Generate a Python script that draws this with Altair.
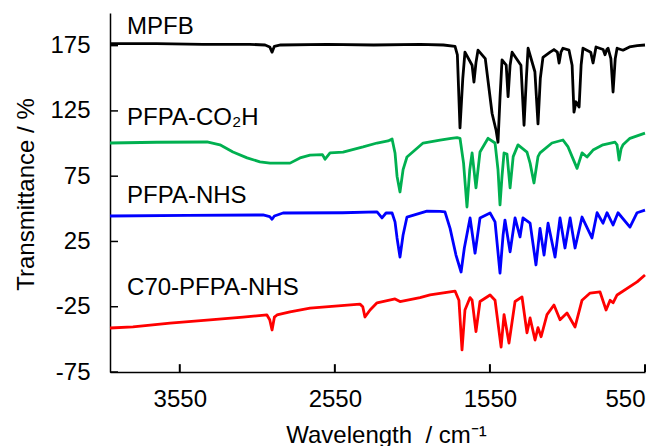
import altair as alt
import pandas as pd

# ---------------- data (wavenumber in cm-1, transmittance offset in %) ----------------
mpfb_wn = [4000, 3700, 3400, 3100, 3000, 2970, 2955, 2940, 2900, 2600, 2300, 2000, 1850,
           1775, 1760, 1743, 1725, 1711, 1665, 1653, 1640, 1627, 1580, 1536, 1510, 1498,
           1485, 1472, 1445, 1433, 1420, 1407, 1350, 1330, 1315, 1304, 1260, 1240, 1225,
           1208, 1162, 1137, 1115, 1104, 1092, 1079, 1040, 1020, 1008, 995, 975, 962, 950,
           900, 885, 872, 866, 820, 808, 796, 788, 770, 756, 742, 730, 692, 650, 600, 550]
mpfb_t = [176.5, 176.5, 176, 176, 175.5, 174, 170, 174.5, 175.5, 176, 175.5, 176, 175.5,
          174.5, 168, 112, 150, 170, 160, 147, 162, 171.5, 165, 123, 110, 101,
          135, 164, 160, 136, 160, 170, 160, 114, 150, 173, 155, 115, 150,
          166, 170, 172, 170, 161.7, 170, 173, 171.5, 160, 124, 132, 128, 160, 173,
          170, 161.7, 170, 174, 172, 168, 172, 173, 165, 139.5, 165, 173, 171.5, 174, 175, 175.5]

co2h_wn = [4000, 3700, 3374, 3291, 3207, 3116, 3033, 2968, 2839, 2775, 2710, 2630, 2613,
           2581, 2497, 2368, 2278, 2207, 2181, 2162, 2149, 2130, 2110, 2085, 1981, 1872,
           1800, 1762, 1743, 1720, 1698, 1680, 1665, 1640, 1614, 1562, 1517, 1498, 1485,
           1472, 1459, 1440, 1420, 1400, 1369, 1311, 1291, 1266, 1240, 1227, 1150, 1079,
           1046, 1020, 988, 956, 924, 885, 821, 743, 730, 717, 704, 692, 647, 550]
co2h_t = [100.4, 101, 101.2, 99, 93.5, 89, 86, 85, 85, 89, 91.2, 91.5, 88,
          92.8, 93.5, 97.4, 100.4, 102, 103.5, 92.8, 75, 62.9, 80, 89.7, 100.4, 102.7,
          104, 104.5, 104, 85, 51.4, 80, 92.8, 66, 93.5, 104, 100.4, 80, 53,
          75, 92.8, 92, 66, 90, 99, 93.5, 85, 69.8, 90, 92.8, 100.4, 102.7,
          97.4, 90, 81, 92.8, 89.7, 95, 99, 101, 99, 87.4, 96, 99, 104, 108]

nhs_wn = [4000, 3500, 3013, 2970, 2955, 2940, 2884, 2500, 2278, 2246, 2220, 2181, 2162,
          2149, 2130, 2110, 2085, 1956, 1872, 1840, 1807, 1769, 1736, 1715, 1678, 1646,
          1614, 1549, 1517, 1485, 1465, 1453, 1420, 1388, 1356, 1337, 1291, 1253, 1227,
          1201, 1175, 1130, 1098, 1066, 1033, 1001, 956, 892, 859, 821, 795, 756, 724,
          647, 601, 550]
nhs_t = [44.5, 45, 45.3, 44, 42, 44.5, 46.8, 47, 47.6, 43, 46.8, 46.8, 40,
         27.7, 13, 30, 43.7, 48.3, 48, 47.6, 35, 14.6, 1.6, 20, 43, 16,
         43, 46.8, 40, 0.8, 30, 41.4, 17, 43, 28.4, 43, 39, 7, 35,
         14.6, 39, 13, 43, 20, 43, 20, 43.7, 27.7, 47, 39, 47, 37.6, 47,
         36, 47, 49]

c70_wn = [4000, 3852, 3613, 3355, 3142, 2988, 2970, 2955, 2940, 2923, 2839, 2710, 2388,
          2370, 2356, 2323, 2278, 2162, 2130, 2001, 1936, 1775, 1750, 1730, 1711, 1678,
          1665, 1640, 1614, 1549, 1517, 1478, 1459, 1427, 1388, 1343, 1311, 1291, 1259,
          1240, 1220, 1182, 1137, 1098, 1053, 1001, 956, 904, 840, 801, 775, 756, 730,
          601, 550]
c70_t = [-41.3, -40.5, -37.5, -35, -32.9, -31.3, -35, -42.8, -33, -31.3, -29, -26, -23,
         -25, -32.9, -27.5, -22, -19, -21, -18, -16, -13, -20, -58, -27.5, -18,
         -20, -44, -21, -16, -20, -56, -31, -52.8, -21, -17.5, -45, -33.6, -50.5,
         -41, -48, -31, -23.7, -35, -29.8, -40.5, -20, -14.5, -13.7, -27.5, -20, -22, -16,
         -6, -0.7]

series_names = ["C70-PFPA-NHS", "PFPA-NHS", "PFPA-CO₂H", "MPFB"]
series_wn = [c70_wn, nhs_wn, co2h_wn, mpfb_wn]
series_t = [c70_t, nhs_t, co2h_t, mpfb_t]
series_colors = ["#FF0000", "#0000FF", "#00B050", "#000000"]

label_wn = [3890, 3890, 3890, 3890]
label_t = [-10.7, 59.8, 119.6, 189.5]

x_ticks = [3550, 2550, 1550, 550]
y_ticks = [-75, -25, 25, 75, 125, 175]

FONT = "Liberation Sans"

x_scale = alt.Scale(domain=[550, 4000], reverse=True, nice=False, zero=False)
y_scale = alt.Scale(domain=[-75, 200], nice=False, zero=False)

x_axis = alt.Axis(values=x_ticks, labelExpr="toString(datum.value)", ticks=False,
                  grid=False, domainColor="black", domainWidth=1.5,
                  labelFont=FONT, labelFontSize=24, labelColor="black", labelPadding=15,
                  title="Wavelength\u00a0 / cm⁻¹", titleFont=FONT, titleFontSize=24,
                  titleFontWeight="normal", titleColor="black",
                  titleX=276, titleY=70, titleAlign="center", titleBaseline="alphabetic")
y_axis = alt.Axis(values=y_ticks, labelExpr="toString(datum.value)", ticks=False,
                  grid=False, domainColor="black", domainWidth=1.5,
                  labelFont=FONT, labelFontSize=24, labelColor="black", labelPadding=20,
                  title="Transmittance / %", titleFont=FONT, titleFontSize=24,
                  titleFontWeight="normal", titleColor="black", titleAngle=-90,
                  titleX=-77, titleY=181, titleAlign="center", titleBaseline="alphabetic")

X = lambda f: alt.X(f, scale=x_scale, axis=x_axis)
Y = lambda f: alt.Y(f, scale=y_scale, axis=y_axis)

layers = []
for name, wn, t, col in zip(series_names, series_wn, series_t, series_colors):
    df = pd.DataFrame({"wn": wn, "t": t, "order": list(range(len(wn)))})
    layers.append(
        alt.Chart(df).mark_line(color=col, strokeWidth=2.8, strokeJoin="round")
        .encode(x=X("wn:Q"), y=Y("t:Q"), order="order:Q")
    )

labels_df = pd.DataFrame({"wn": label_wn, "t": label_t, "name": series_names})
labels = alt.Chart(labels_df).mark_text(
    align="left", baseline="middle", font=FONT, fontSize=24, color="black"
).encode(x=X("wn:Q"), y=Y("t:Q"), text="name:N")

# inward tick marks (Vega-Lite axes only draw outward ticks)
xt_df = pd.DataFrame({"wn": x_ticks})
xt = alt.Chart(xt_df).transform_calculate(
    t0="-75", t1="-69"
).mark_rule(color="black", strokeWidth=2).encode(
    x=X("wn:Q"), y=Y("t0:Q"), y2="t1:Q")
yt = alt.Chart(pd.DataFrame({"t": y_ticks})).mark_rule(color="black", strokeWidth=1.5).encode(
    y=Y("t:Q"), x=alt.value(0), x2=alt.value(8))

chart = alt.layer(*layers, labels, xt, yt).properties(
    width=535, height=359,
    autosize=alt.AutoSizeParams(type="none"),
    padding={"left": 110, "top": 13, "right": 23, "bottom": 74},
    background="white",
).configure_view(stroke=None)

chart.save("out.html", embed_options={"renderer": "svg", "actions": False})
